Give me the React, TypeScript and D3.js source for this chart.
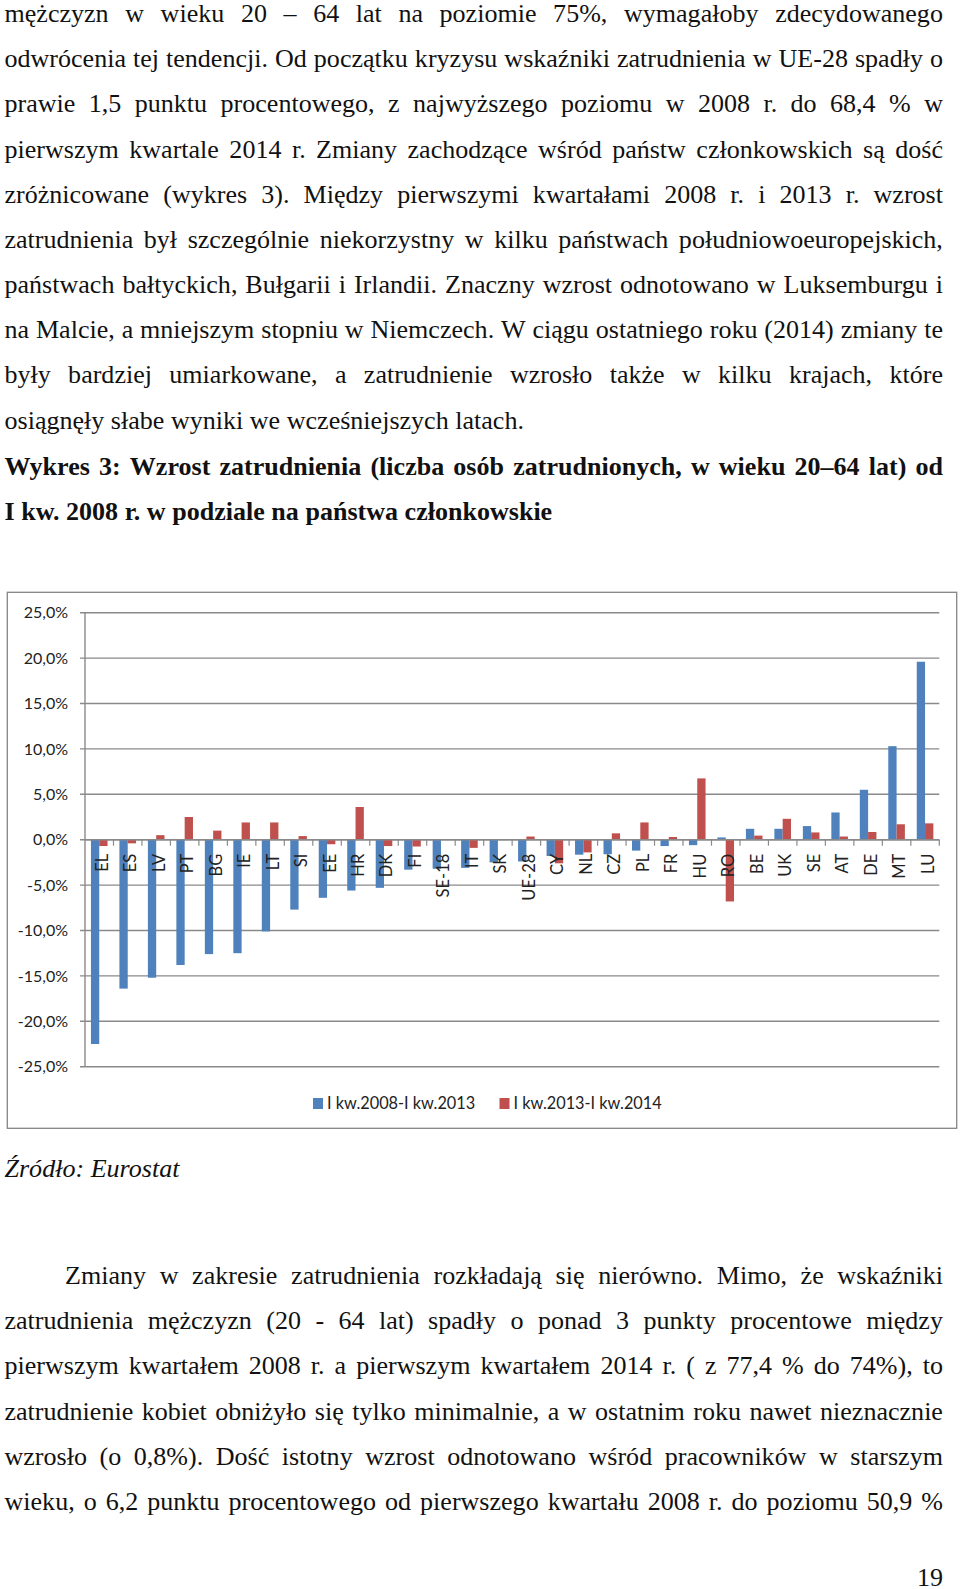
import React, { useEffect } from "react";
import * as d3 from "d3";

// ---------- data ----------
const categories = ["EL","ES","LV","PT","BG","IE","LT","SI","EE","HR","DK","FI","SE-18","IT","SK","UE-28","CY","NL","CZ","PL","FR","HU","RO","BE","UK","SE","AT","DE","MT","LU"];
const series2008_2013 = [-22.5,-16.4,-15.2,-13.8,-12.6,-12.5,-10.1,-7.7,-6.4,-5.6,-5.3,-3.3,-3.2,-3.1,-2.5,-2.4,-1.8,-1.65,-1.6,-1.2,-0.7,-0.6,0.25,1.2,1.2,1.5,3.0,5.5,10.3,19.6];
const series2013_2014 = [-0.7,-0.4,0.5,2.5,1.0,1.9,1.9,0.4,-0.5,3.6,-0.7,-0.75,0.0,-0.9,0.0,0.35,-2.6,-1.4,0.7,1.9,0.3,6.75,-6.8,0.45,2.3,0.8,0.35,0.85,1.7,1.8];
const seriesNames = ["I kw.2008-I kw.2013","I kw.2013-I kw.2014"];
const seriesColors = ["#4F81BD","#C0504D"];
const yTicks = [-25,-20,-15,-10,-5,0,5,10,15,20,25];

// ---------- page text ----------
const para1 = [
  "mężczyzn w wieku 20 – 64 lat na poziomie 75%, wymagałoby zdecydowanego",
  "odwrócenia tej tendencji. Od początku kryzysu wskaźniki zatrudnienia w UE-28 spadły o",
  "prawie 1,5 punktu procentowego, z najwyższego poziomu w 2008 r. do 68,4 % w",
  "pierwszym kwartale 2014 r. Zmiany zachodzące wśród państw członkowskich są dość",
  "zróżnicowane (wykres 3). Między pierwszymi kwartałami 2008 r. i 2013 r. wzrost",
  "zatrudnienia był szczególnie niekorzystny w kilku państwach południowoeuropejskich,",
  "państwach bałtyckich, Bułgarii i Irlandii. Znaczny wzrost odnotowano w Luksemburgu i",
  "na Malcie, a mniejszym stopniu w Niemczech. W ciągu ostatniego roku (2014) zmiany te",
  "były bardziej umiarkowane, a zatrudnienie wzrosło także w kilku krajach, które",
  "osiągnęły słabe wyniki we wcześniejszych latach.",
];
const titleLines = [
  "Wykres 3: Wzrost zatrudnienia (liczba osób zatrudnionych, w wieku 20–64 lat) od",
  "I kw. 2008 r. w podziale na państwa członkowskie",
];
const sourceText = "Źródło: Eurostat";
const para2 = [
  "Zmiany w zakresie zatrudnienia rozkładają się nierówno. Mimo, że wskaźniki",
  "zatrudnienia mężczyzn (20 - 64 lat) spadły o ponad 3 punkty procentowe między",
  "pierwszym kwartałem 2008 r. a pierwszym kwartałem 2014 r. ( z 77,4 % do 74%), to",
  "zatrudnienie kobiet obniżyło się tylko minimalnie, a w ostatnim roku nawet nieznacznie",
  "wzrosło (o 0,8%). Dość istotny wzrost odnotowano wśród pracowników w starszym",
  "wieku, o 6,2 punktu procentowego od pierwszego kwartału 2008 r. do poziomu 50,9 %",
];
const pageNumber = "19";

const SERIF = "'Liberation Serif', 'Times New Roman', serif";
const SANS = "Lato, 'Open Sans', sans-serif";
const FS = 26;
const LINE = 45.17;
const LEFT = 4.5;
const RIGHT = 943;

let _ctx: CanvasRenderingContext2D | null = null;
function measure(t: string, weight = "normal", style = "normal") {
  if (!_ctx) _ctx = document.createElement("canvas").getContext("2d");
  _ctx!.font = `${style} ${weight} ${FS}px ${SERIF}`;
  return _ctx!.measureText(t).width;
}

function TextLine({ text, x0, baseline, justify, sx, weight = "normal", style = "normal" }: any) {
  const words = text.split(" ");
  const spaceW = measure(" ", weight, style);
  const widths = words.map((w: string) => measure(w, weight, style));
  const total = d3.sum(widths);
  const avail = (RIGHT - x0) / sx;
  const gap = justify && words.length > 1 ? (avail - total) / (words.length - 1) : spaceW;
  let pos = 0;
  const xs = widths.map((w: number) => { const p = pos; pos += w + gap; return p; });
  return (
    <g transform={`translate(${x0},${baseline}) scale(${sx},1)`}>
      {words.map((w: string, i: number) => (
        <text key={i} x={xs[i]} fontFamily={SERIF} fontSize={FS} fontWeight={weight} fontStyle={style} fill="#111">{w}</text>
      ))}
    </g>
  );
}

export default function App() {
  useEffect(() => {
    document.body.style.margin = "0";
    document.body.style.overflow = "hidden";
  }, []);

  const sx = 519.5 / measure(para1[para1.length - 1]);

  // chart geometry
  const box = { left: 7.3, top: 592.3, right: 956.7, bottom: 1128.3 };
  const plot = { left: 85, right: 939.3, top: 612.7, bottom: 1066.7 };
  const y = d3.scaleLinear().domain([-25, 25]).range([plot.bottom, plot.top]);
  const x0 = d3.scaleBand<string>().domain(categories).range([plot.left, plot.right]).paddingInner(0.417).paddingOuter(0.2085);
  const x1 = d3.scaleBand<number>().domain([0, 1]).range([0, x0.bandwidth()]);
  const step = x0.step();
  const seriesData = [series2008_2013, series2013_2014];
  const fmt = (v: number) => v.toFixed(1).replace(".", ",") + "%";

  const p1Base = 22;
  return (
    <svg width={960} height={1589} style={{ position: "absolute", left: 0, top: 0, display: "block", background: "#fff" }}>
      <rect x={0} y={0} width={960} height={1589} fill="#fff" />
      {para1.map((t, i) => (
        <TextLine key={"p1" + i} text={t} x0={LEFT} baseline={p1Base + i * LINE} justify={i < para1.length - 1} sx={sx} />
      ))}
      {titleLines.map((t, i) => (
        <TextLine key={"t" + i} text={t} x0={LEFT} baseline={p1Base + 0.8 + (para1.length + i) * LINE} justify={i === 0} sx={sx} weight="bold" />
      ))}

      {/* chart */}
      <rect x={box.left} y={box.top} width={box.right - box.left} height={box.bottom - box.top} fill="#fff" stroke="#858585" strokeWidth={1.3} />
      {yTicks.map((v) => (
        <g key={"g" + v}>
          <line x1={plot.left - 5} x2={plot.right} y1={y(v)} y2={y(v)} stroke="#8a8a8a" strokeWidth={1.4} />
          <text x={68} y={y(v)} dy="0.36em" textAnchor="end" fontFamily={SANS} fontSize={16} fill="#222">{fmt(v)}</text>
        </g>
      ))}
      <line x1={plot.left} x2={plot.left} y1={plot.top} y2={plot.bottom} stroke="#8a8a8a" strokeWidth={1.4} />
      {seriesData.map((vals, s) => (
        <g key={"s" + s}>
          {vals.map((v, i) => (
            <rect key={i}
              x={(x0(categories[i]) as number) + (x1(s) as number)}
              y={Math.min(y(v), y(0))}
              width={x1.bandwidth()}
              height={Math.abs(y(v) - y(0))}
              fill={seriesColors[s]} />
          ))}
        </g>
      ))}
      <line x1={plot.left} x2={plot.right} y1={y(0)} y2={y(0)} stroke="#8a8a8a" strokeWidth={1.4} />
      {categories.map((c, i) => (
        <line key={"xt" + i} x1={plot.left + (i + 1) * step} x2={plot.left + (i + 1) * step} y1={y(0)} y2={y(0) + 6} stroke="#8a8a8a" strokeWidth={1.2} />
      ))}
      {categories.map((c) => (
        <text key={"xl" + c} transform={`translate(${(x0(c) as number) + x0.bandwidth() / 2 + 2.5},${y(0) + 14}) rotate(-90)`}
          dy="0.36em" textAnchor="end" fontFamily={SANS} fontSize={16.5} fill="#222">{c}</text>
      ))}
      {/* legend */}
      {[313, 499.5].map((lx, i) => (
        <g key={"lg" + i}>
          <rect x={lx} y={1098} width={10} height={11} fill={seriesColors[i]} />
          <text x={lx + 14} y={1108.5} fontFamily={SANS} fontSize={16.3} fill="#222">{seriesNames[i]}</text>
        </g>
      ))}

      <TextLine text={sourceText} x0={LEFT} baseline={1176.5} justify={false} sx={sx} style="italic" />
      {para2.map((t, i) => (
        <TextLine key={"p2" + i} text={t} x0={i === 0 ? 65 : LEFT} baseline={1284 + i * LINE} justify={true} sx={sx} />
      ))}
      <text x={RIGHT} y={1586} textAnchor="end" fontFamily={SERIF} fontSize={FS} fill="#111" transform={`translate(${RIGHT * (1 - sx)},0) scale(${sx},1)`}>{pageNumber}</text>
    </svg>
  );
}
